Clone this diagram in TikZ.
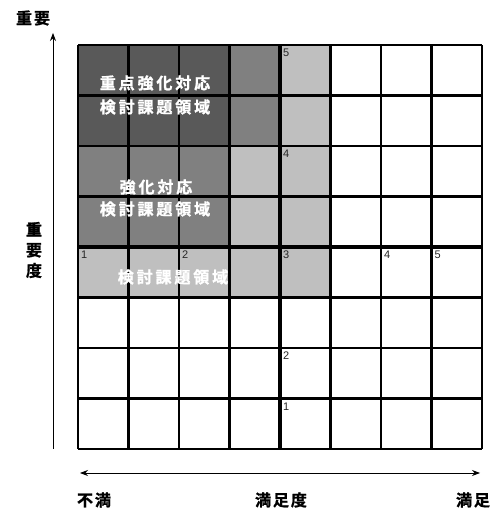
\documentclass[tikz,border=0pt]{standalone}
\usepackage{fontspec}
\setmainfont{Liberation Sans}
\newfontfamily\jpwide{Noto Sans CJK JP Bold}[LetterSpace=18,FakeBold=1.2]
\newfontfamily\jpaxis{Noto Sans CJK JP Bold}[LetterSpace=12,FakeBold=1.2]
\usetikzlibrary{arrows.meta}
\definecolor{darkcell}{gray}{0.35}
\definecolor{midcell}{gray}{0.50}
\definecolor{lightcell}{gray}{0.75}

\begin{document}
\begin{tikzpicture}[x=1pt,y=1pt,>={Stealth[length=8pt,width=6pt]},
  celltext/.style={font=\fontsize{16}{18}\selectfont\jpwide,text=white,inner sep=0pt},
  axistext/.style={font=\fontsize{16}{18}\selectfont\jpaxis,inner sep=0pt},
  numtext/.style={font=\fontsize{11}{13}\selectfont,text=black!85,anchor=north west,inner sep=0pt}]
  \useasboundingbox (0,0) rectangle (497,511);
  % shaded areas
  \fill[darkcell]  (78,365) rectangle (229.5,466);
  \fill[midcell]   (229.5,365) rectangle (280,466);
  \fill[midcell]   (78,264) rectangle (229.5,365);
  \fill[lightcell] (280,264) rectangle (330.5,466);
  \fill[lightcell] (229.5,264) rectangle (280,365);
  \fill[lightcell] (78,213.5) rectangle (330.5,264);
  % grid 8x8
  \foreach \i in {0,...,8} {
    \draw[line width=2.4pt] (78+\i*50.5,62) -- (78+\i*50.5,466);
    \draw[line width=2.4pt] (78,62+\i*50.5) -- (482,62+\i*50.5);
  }
  \draw[line width=3.2pt] (280,62) -- (280,466);
  \draw[line width=3.2pt] (78,264) -- (482,264);
  % labels in the areas
  \node[celltext] (focus1) at (155,428) {重点強化対応};
  \node[celltext] (focus2) at (155,404) {検討課題領域};
  \node[celltext] (strong1) at (156,324) {強化対応};
  \node[celltext] (strong2) at (155,302) {検討課題領域};
  \node[celltext] (review) at (173,234) {検討課題領域};
  % numbers
  \node[numtext] (n1) at (81,260) {1};
  \node[numtext] (n2) at (182,260) {2};
  \node[numtext] (n3) at (283,260) {3};
  \node[numtext] (n4) at (384,260) {4};
  \node[numtext] (n5) at (434.5,260) {5};
  \node[numtext] (m5) at (283,462) {5};
  \node[numtext] (m4) at (283,361) {4};
  \node[numtext] (m2) at (283,159) {2};
  \node[numtext] (m1) at (283,108.5) {1};
  % axes
  \coordinate (ybot) at (53,62);
  \coordinate (ytop) at (53,478);
  \coordinate (xleft) at (80,38);
  \coordinate (xright) at (480,38);
  \draw[->,line width=0.8pt] (ybot) -- (ytop);
  \draw[<->,line width=0.8pt] (xleft) -- (xright);
  \node[axistext] (ylab) at (33,493) {重要};
  \node[axistext,align=center,font=\fontsize{16}{20.5}\selectfont\jpaxis] (yname) at (34,261) {重\\要\\度};
  \node[axistext] (xlow) at (94,11) {不満};
  \node[axistext] (xname) at (281,11) {満足度};
  \node[axistext] (xhigh) at (473,11) {満足};
\end{tikzpicture}
\end{document}
